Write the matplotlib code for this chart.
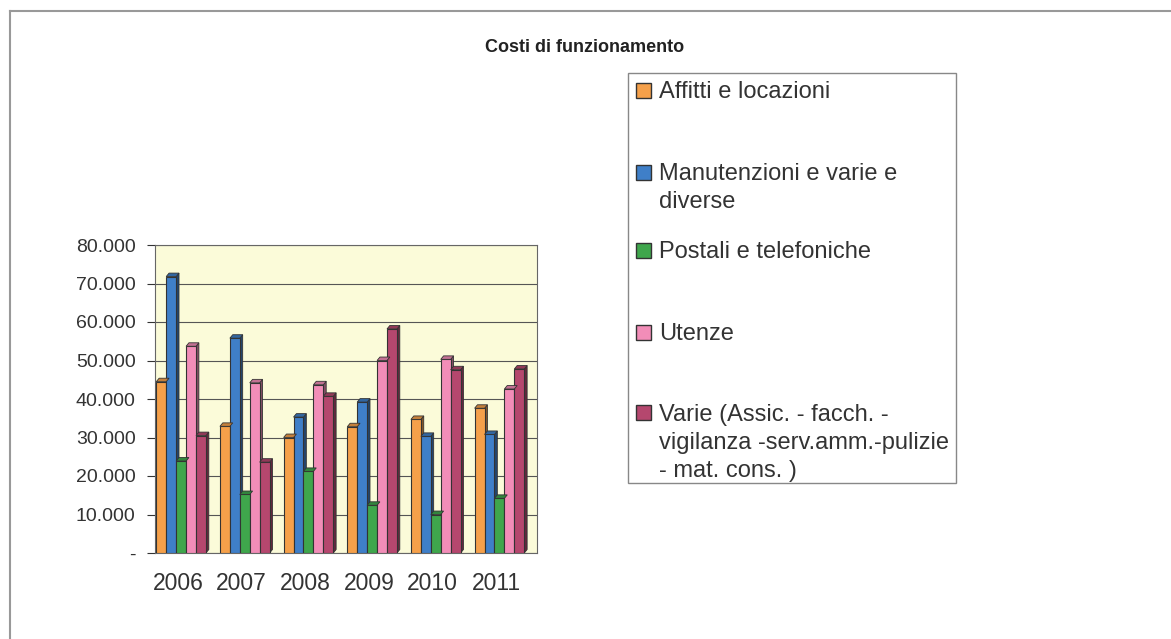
import numpy as np
import matplotlib.pyplot as plt
from matplotlib.patches import Polygon, Rectangle
from matplotlib.ticker import FuncFormatter
from matplotlib.colors import to_rgb
import matplotlib.transforms as mtransforms

plt.rcParams['font.family'] = ['Liberation Sans', 'DejaVu Sans']

# data
anni = ['2006', '2007', '2008', '2009', '2010', '2011']
affitti = [44500, 32900, 30000, 32800, 34700, 37600]
manutenzioni = [71800, 55800, 35300, 39200, 30300, 30800]
postali = [23900, 15200, 21200, 12400, 10000, 14200]
utenze = [53700, 44200, 43700, 50000, 50300, 42600]
varie = [30500, 23600, 40700, 58200, 47600, 47800]

serie = [affitti, manutenzioni, postali, utenze, varie]
etichette = ['Affitti e locazioni',
             'Manutenzioni e varie e\ndiverse',
             'Postali e telefoniche',
             'Utenze',
             'Varie (Assic. - facch. -\nvigilanza -serv.amm.-pulizie\n- mat. cons. )']
colori = ['#F5A04A', '#3F7FC8', '#3FA64C', '#F28DB8', '#B5476E']

W, H = 1171, 639
fig = plt.figure(figsize=(W/100, H/100), dpi=100)
fig.patch.set_facecolor('white')

def fx(px):
    return px / W

def fy(py):
    return 1 - py / H

# outer frame (top and left edges)
fig.add_artist(plt.Line2D([fx(10), 1], [fy(11), fy(11)], color='#999999', lw=1.5))
fig.add_artist(plt.Line2D([fx(10), fx(10)], [0, fy(11)], color='#999999', lw=1.5))

ax = fig.add_axes([fx(155), fy(553), fx(537 - 155), (553 - 245) / H])
ax.set_facecolor('#FBFBD9')

x = np.arange(len(anni))
w = 0.156
dx = 0.045
dy = 900

def scuro(c, f=0.6):
    r, g, b = to_rgb(c)
    return (r*f, g*f, b*f)

for i, (vals, col) in enumerate(zip(serie, colori)):
    pos = x - 2*w + i*w - 0.09
    ax.bar(pos, vals, w, color=col, edgecolor='#333333', linewidth=0.8, zorder=3)
    for p, v in zip(pos, vals):
        xr = p + w/2
        xl = p - w/2
        side = Polygon([[xr, 0], [xr + dx, dy], [xr + dx, v + dy], [xr, v]],
                       closed=True, facecolor=scuro(col, 0.55), edgecolor='#333333', lw=0.6, zorder=2.9)
        top = Polygon([[xl, v], [xl + dx, v + dy], [xr + dx, v + dy], [xr, v]],
                      closed=True, facecolor=scuro(col, 0.8), edgecolor='#333333', lw=0.6, zorder=3.1)
        ax.add_patch(side)
        ax.add_patch(top)

ax.set_xlim(-0.5, len(anni) - 0.5)
ax.set_ylim(0, 80000)
ax.set_yticks(np.arange(0, 80001, 10000))
ax.yaxis.set_major_formatter(FuncFormatter(lambda v, p: '-' if v == 0 else f'{int(v):,}'.replace(',', '.')))
ax.yaxis.grid(True, color='#555555', lw=0.8, zorder=0)
ax.set_axisbelow(True)
ax.set_xticks(x)
ax.set_xticklabels(anni)
ax.tick_params(axis='y', labelsize=14, colors='#333333', length=6, width=0.8, pad=8)
ax.tick_params(axis='x', labelsize=16.5, colors='#333333', length=0, pad=14)
# labels sit in front of the 3D floor, slightly left of the wall
sposta = mtransforms.ScaledTranslation(-9/100, 0, fig.dpi_scale_trans)
for lbl in ax.get_xticklabels():
    lbl.set_transform(lbl.get_transform() + sposta)
for s in ['left', 'bottom', 'top', 'right']:
    ax.spines[s].set_color('#666666')
    ax.spines[s].set_linewidth(0.8)

fig.text(fx(585), fy(47), 'Costi di funzionamento', ha='center', va='center',
         fontsize=13, fontweight='bold', color='#222222')

# legend box drawn like the original (handle aligned to first text line)
fig.add_artist(Rectangle((fx(628), fy(483)), fx(956 - 628), (483 - 73) / H,
                         transform=fig.transFigure, facecolor='white', edgecolor='#888888', lw=1))
righe_y = [90, 172, 250, 332, 412]
passo = 28
for yy, lab, col in zip(righe_y, etichette, colori):
    fig.add_artist(Rectangle((fx(636), fy(yy + 8)), fx(15), 15 / H, transform=fig.transFigure,
                             facecolor=col, edgecolor='#333333', lw=1))
    for k, riga in enumerate(lab.split('\n')):
        fig.text(fx(659), fy(yy + 8.5 + k * passo), riga, ha='left', va='baseline',
                 fontsize=17, color='#333333')

fig.savefig('out.png', dpi=100)
